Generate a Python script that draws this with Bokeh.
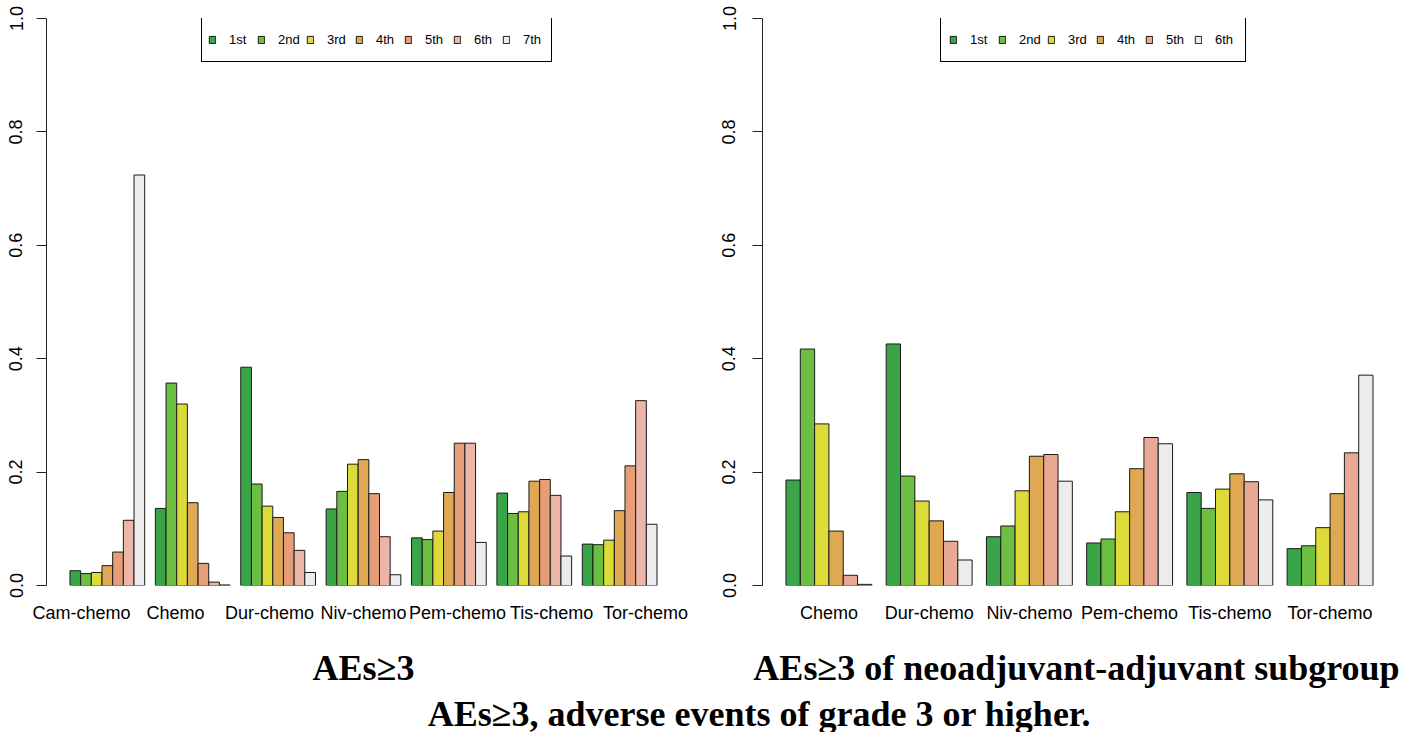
from bokeh.plotting import figure
from bokeh.models import (FactorRange, CategoricalAxis, FixedTicker, NumeralTickFormatter,
                          Legend, LegendItem, Label, ColumnDataSource, Range1d)
from bokeh.layouts import row, column
from bokeh.transform import dodge
from bokeh.embed import file_html
from bokeh.resources import INLINE

# ---------------- data ----------------
left_groups = ["Cam-chemo", "Chemo", "Dur-chemo", "Niv-chemo", "Pem-chemo", "Tis-chemo", "Tor-chemo"]
left_ranks = ["1st", "2nd", "3rd", "4th", "5th", "6th", "7th"]
left_1st = [0.026, 0.136, 0.385, 0.135, 0.084, 0.163, 0.073]
left_2nd = [0.021, 0.357, 0.179, 0.166, 0.081, 0.127, 0.072]
left_3rd = [0.023, 0.320, 0.140, 0.214, 0.096, 0.130, 0.080]
left_4th = [0.035, 0.146, 0.120, 0.222, 0.164, 0.184, 0.132]
left_5th = [0.059, 0.039, 0.093, 0.162, 0.251, 0.187, 0.211]
left_6th = [0.115, 0.006, 0.062, 0.086, 0.251, 0.159, 0.326]
left_7th = [0.724, 0.001, 0.023, 0.019, 0.076, 0.052, 0.108]
left_series = [left_1st, left_2nd, left_3rd, left_4th, left_5th, left_6th, left_7th]
left_colors = ["#39A548", "#6DBF43", "#DCDB3A", "#DFA853", "#E59E77", "#EBB5A8", "#ECECEC"]

right_groups = ["Chemo", "Dur-chemo", "Niv-chemo", "Pem-chemo", "Tis-chemo", "Tor-chemo"]
right_ranks = ["1st", "2nd", "3rd", "4th", "5th", "6th"]
right_1st = [0.186, 0.426, 0.086, 0.075, 0.164, 0.065]
right_2nd = [0.417, 0.193, 0.105, 0.082, 0.136, 0.070]
right_3rd = [0.285, 0.149, 0.167, 0.130, 0.170, 0.102]
right_4th = [0.096, 0.114, 0.228, 0.206, 0.197, 0.162]
right_5th = [0.018, 0.078, 0.231, 0.261, 0.183, 0.234]
right_6th = [0.002, 0.045, 0.184, 0.250, 0.151, 0.371]
right_series = [right_1st, right_2nd, right_3rd, right_4th, right_5th, right_6th]
right_colors = ["#39A548", "#6DBF43", "#DCDB3A", "#DFA853", "#E8A894", "#ECECEC"]

y_ticks = [0.0, 0.2, 0.4, 0.6, 0.8, 1.0]

title_left = "AEs\u22653"
title_right = "AEs\u22653 of neoadjuvant-adjuvant subgroup"
caption = "AEs\u22653, adverse events of grade 3 or higher."

SANS = "Liberation Sans"
SERIF = "Liberation Serif"


def make_panel(groups, ranks, series, colors, width, border_left, border_right,
               range_pad, label_factor_pad, legend_x, legend_pad, y_standoff):
    n = len(ranks)
    bar_w = 1.0 / (n + 1)
    x_range = FactorRange(factors=groups, range_padding=range_pad,
                          range_padding_units="absolute", factor_padding=0)
    p = figure(width=width, height=640, x_range=x_range, y_range=Range1d(0, 1),
               output_backend="svg", toolbar_location=None,
               x_axis_location=None,
               min_border_left=border_left, min_border_right=border_right,
               min_border_top=18, min_border_bottom=55)
    p.outline_line_color = None
    p.xgrid.grid_line_color = None
    p.ygrid.grid_line_color = None
    p.background_fill_color = "white"

    data = dict(group=groups)
    for r, s in zip(ranks, series):
        data[r] = s
    src = ColumnDataSource(data)

    items = []
    for j, (r, c) in enumerate(zip(ranks, colors)):
        off = (j - (n - 1) / 2.0) * bar_w
        rend = p.vbar(x=dodge("group", off, range=p.x_range), top=r, bottom=0,
                      width=bar_w, source=src, fill_color=c,
                      line_color="#1a1a1a", line_width=1)
        items.append(LegendItem(label=r, renderers=[rend]))

    # category axis (labels follow their own spacing in the left panel)
    if label_factor_pad is not None:
        p.extra_x_ranges = {"lab": FactorRange(factors=groups, range_padding=0,
                                               factor_padding=label_factor_pad)}
        xax = CategoricalAxis(x_range_name="lab")
    else:
        xax = CategoricalAxis()
    xax.axis_line_color = None
    xax.major_tick_line_color = None
    xax.minor_tick_line_color = None
    xax.major_label_standoff = 11
    xax.major_label_text_font = SANS
    xax.major_label_text_font_size = "18px"
    xax.major_label_text_color = "black"
    p.add_layout(xax, "below")

    yax = p.yaxis[0]
    yax.ticker = FixedTicker(ticks=y_ticks)
    yax.formatter = NumeralTickFormatter(format="0.0")
    yax.major_label_orientation = "vertical"
    yax.major_tick_out = 10
    yax.major_tick_in = 0
    yax.minor_tick_line_color = None
    yax.axis_line_color = "#222222"
    yax.major_tick_line_color = "#222222"
    yax.major_label_standoff = y_standoff
    yax.major_label_text_font = SANS
    yax.major_label_text_font_size = "18px"
    yax.major_label_text_color = "black"

    legend = Legend(items=items, orientation="horizontal", location=(legend_x, 523),
                    glyph_width=8, glyph_height=9, label_standoff=13,
                    label_width=22, label_height=44 - 2 * legend_pad, spacing=6,
                    padding=legend_pad, margin=0,
                    border_line_color="black", border_line_width=1, border_line_alpha=1,
                    label_text_font=SANS, label_text_font_size="13px",
                    label_text_color="black",
                    background_fill_color="white", background_fill_alpha=1)
    p.add_layout(legend)
    return p


p1 = make_panel(left_groups, left_ranks, left_series, left_colors, 714, 46, 34,
                1.7 / 8.0, 0.347, 155, 6, 14)
p2 = make_panel(right_groups, right_ranks, right_series, right_colors, 687, 48, 5,
                1.14 / 7.0, None, 178, 8, 17)

p3 = figure(width=1401, height=92, x_range=Range1d(0, 1), y_range=Range1d(0, 1),
            output_backend="svg", toolbar_location=None,
            x_axis_location=None, y_axis_location=None, min_border=0)
p3.outline_line_color = None
p3.xgrid.grid_line_color = None
p3.ygrid.grid_line_color = None


def add_text(fig, x, y, txt):
    fig.add_layout(Label(x=x, y=y, x_units="screen", y_units="screen",
                         text=txt, text_align="center", text_baseline="alphabetic",
                         text_font=SERIF, text_font_style="bold", text_font_size="36px",
                         text_color="black"))


add_text(p3, 363, 65, title_left)
add_text(p3, 1076, 65, title_right)
add_text(p3, 759, 19, caption)

layout = column(row(p1, p2), p3)
open("out.html", "w").write(file_html(layout, INLINE))
